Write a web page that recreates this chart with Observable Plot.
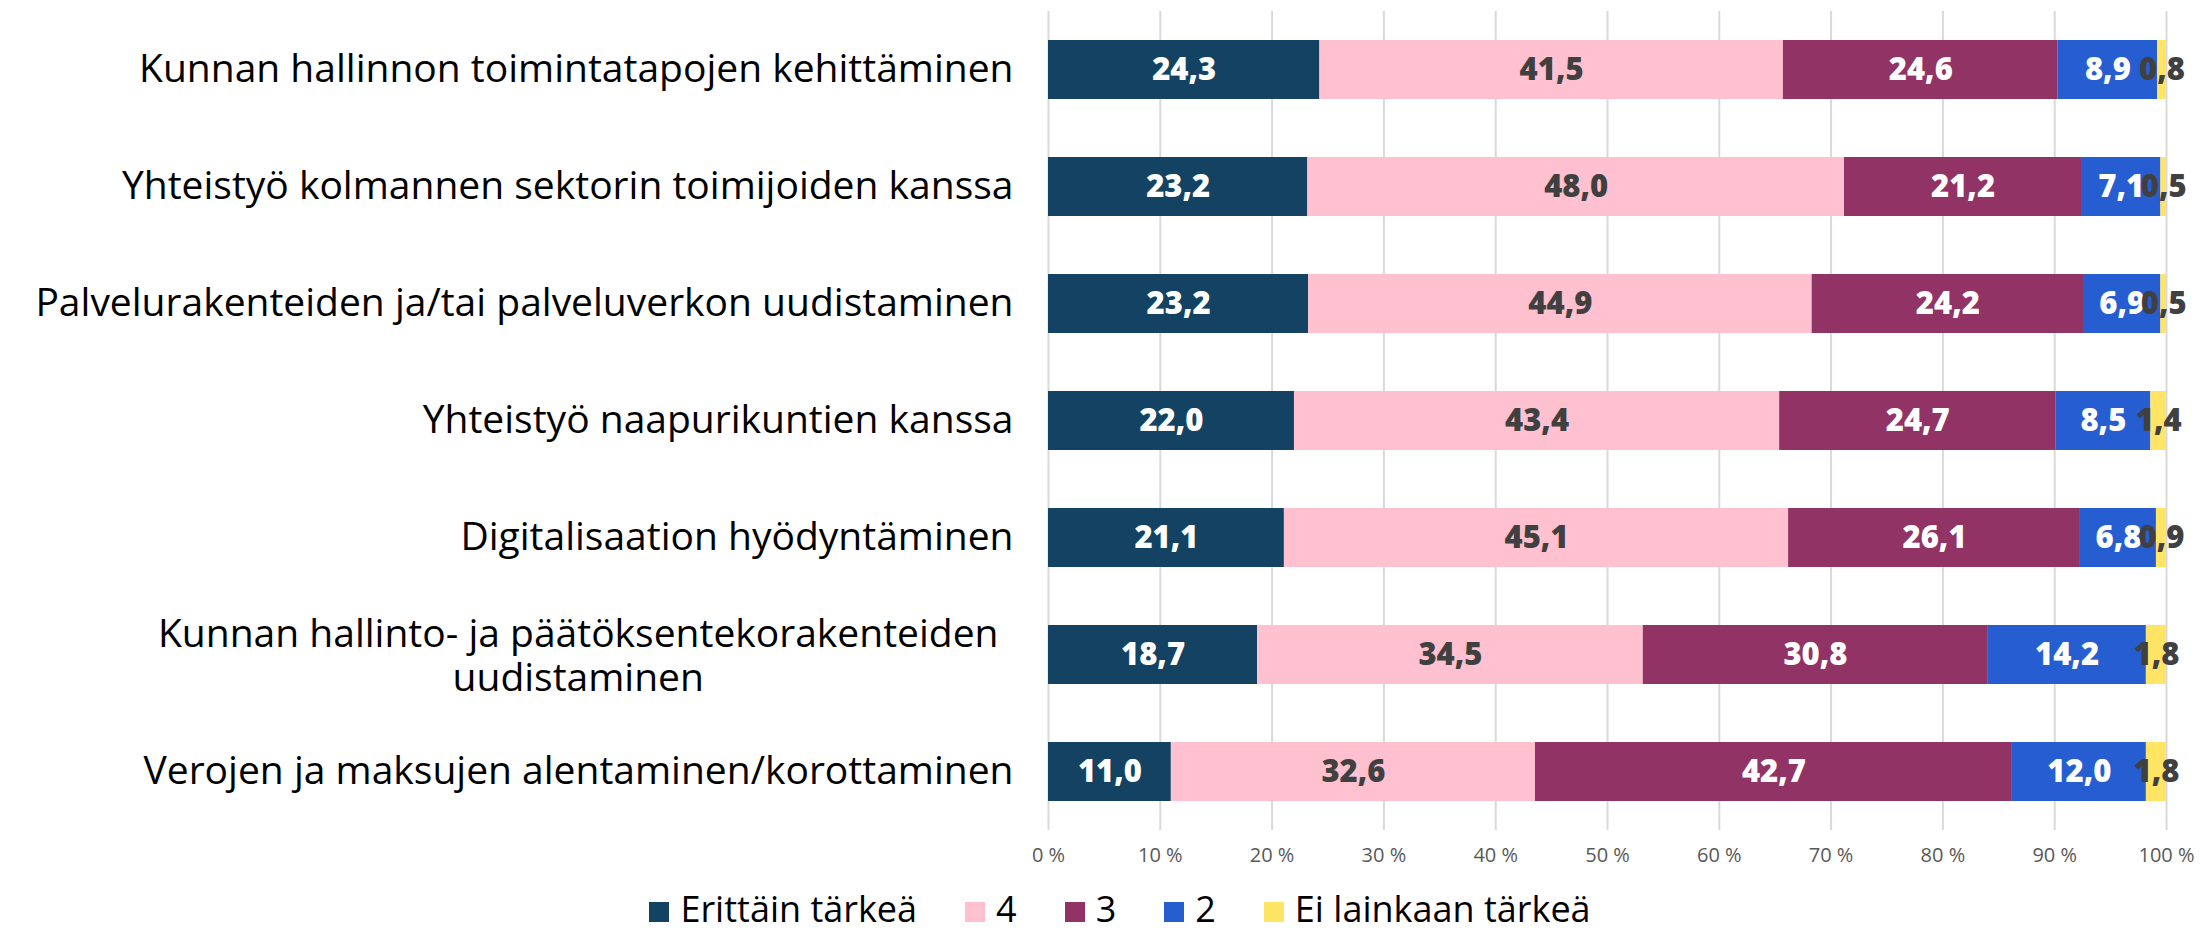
<!DOCTYPE html>
<html>
<head>
<meta charset="utf-8">
<script src="https://cdn.jsdelivr.net/npm/d3@7"></script>
<script src="https://cdn.jsdelivr.net/npm/@observablehq/plot@0.6"></script>
<style>
  body { margin: 0; background: #fff; font-family: "Open Sans", sans-serif; }
  #legend { display: flex; justify-content: center; align-items: baseline; gap: 48px; font-size: 36px; line-height: 48px; color: #000; height: 48px; padding-top: 0px; padding-left: 40px; }
  .item { display: inline-flex; align-items: baseline; gap: 11px; }
  .sw { width: 20px; height: 20px; display: inline-block; }
</style>
</head>
<body>
<div id="chart"></div>
<div id="legend"></div>
<script>
const categories = [
  "Kunnan hallinnon toimintatapojen kehittäminen",
  "Yhteistyö kolmannen sektorin toimijoiden kanssa",
  "Palvelurakenteiden ja/tai palveluverkon uudistaminen",
  "Yhteistyö naapurikuntien kanssa",
  "Digitalisaation hyödyntäminen",
  "Kunnan hallinto- ja päätöksentekorakenteiden uudistaminen",
  "Verojen ja maksujen alentaminen/korottaminen"
];
const series = ["Erittäin tärkeä", "4", "3", "2", "Ei lainkaan tärkeä"];
const colors = ["#134263", "#FFC0CF", "#923366", "#265ED1", "#FFE465"];
const erittainTarkea = [24.3, 23.2, 23.2, 22.0, 21.1, 18.7, 11.0];
const s4 = [41.5, 48.0, 44.9, 43.4, 45.1, 34.5, 32.6];
const s3 = [24.6, 21.2, 24.2, 24.7, 26.1, 30.8, 42.7];
const s2 = [8.9, 7.1, 6.9, 8.5, 6.8, 14.2, 12.0];
const eiLainkaan = [0.8, 0.5, 0.5, 1.4, 0.9, 1.8, 1.8];
const xTicks = [0, 0.1, 0.2, 0.3, 0.4, 0.5, 0.6, 0.7, 0.8, 0.9, 1];

const seriesValues = [erittainTarkea, s4, s3, s2, eiLainkaan];
const data = [];
categories.forEach((c, i) => {
  series.forEach((s, j) => data.push({category: c, series: s, value: seriesValues[j][i]}));
});
const darkText = new Set(["4", "Ei lainkaan tärkeä"]);
const fmt = v => d3.format(".1f")(v).replace(".", ",");

const wrapped = "Kunnan hallinto- ja päätöksentekorakenteiden uudistaminen";
const wrappedLines = ["Kunnan hallinto- ja päätöksentekorakenteiden", "uudistaminen"];
const labelFont = 39;
const cv = document.createElement("canvas").getContext("2d");
cv.font = `${labelFont}px "Open Sans"`;
const wrappedWidth = Math.max(...wrappedLines.map(l => cv.measureText(l).width));

const stackOpts = {x: "value", y: "category", z: "series", order: series, offset: "normalize"};

const plot = Plot.plot({
  width: 2200,
  height: 885,
  marginLeft: 1048,
  marginRight: 34,
  marginTop: 11,
  marginBottom: 55,
  style: {fontFamily: "Open Sans, sans-serif", background: "#fff"},
  x: {domain: [0, 1], ticks: xTicks, tickFormat: d => Math.round(d * 100) + " %"},
  y: {domain: categories, paddingInner: 0.5, paddingOuter: 0.25},
  color: {domain: series, range: colors},
  marks: [
    Plot.gridX(xTicks, {stroke: "#d9d9d9", strokeOpacity: 1, strokeWidth: 2}),
    Plot.axisX({ticks: xTicks, tickSize: 0, tickPadding: 17, fontSize: 20, color: "#595959", label: null, tickFormat: d => Math.round(d * 100) + " %"}),
    Plot.axisY({ticks: categories.filter(c => c !== wrapped), tickSize: 0, tickPadding: 35, fontSize: labelFont, color: "#000", label: null}),
    Plot.text([wrapped], {y: d => d, text: () => wrappedLines.join("\n"), frameAnchor: "left", textAnchor: "middle", dx: -50 - wrappedWidth / 2, fontSize: labelFont, lineHeight: 1.12, fill: "#000"}),
    Plot.barX(data, Plot.stackX({...stackOpts, fill: "series"})),
    Plot.text(data, Plot.stackX({...stackOpts, text: d => darkText.has(d.series) ? "" : fmt(d.value), fill: "#fff", fontSize: 31, fontWeight: 800})),
    Plot.text(data, Plot.stackX({...stackOpts, text: d => darkText.has(d.series) ? fmt(d.value) : "", fill: "#404040", fontSize: 31, fontWeight: 800}))
  ]
});
document.getElementById("chart").appendChild(plot);

const leg = document.getElementById("legend");
series.forEach((s, j) => {
  const it = document.createElement("div");
  it.className = "item";
  const sw = document.createElement("span");
  sw.className = "sw";
  sw.style.background = colors[j];
  const t = document.createElement("span");
  t.textContent = s;
  it.appendChild(sw); it.appendChild(t);
  leg.appendChild(it);
});
</script>
</body>
</html>
